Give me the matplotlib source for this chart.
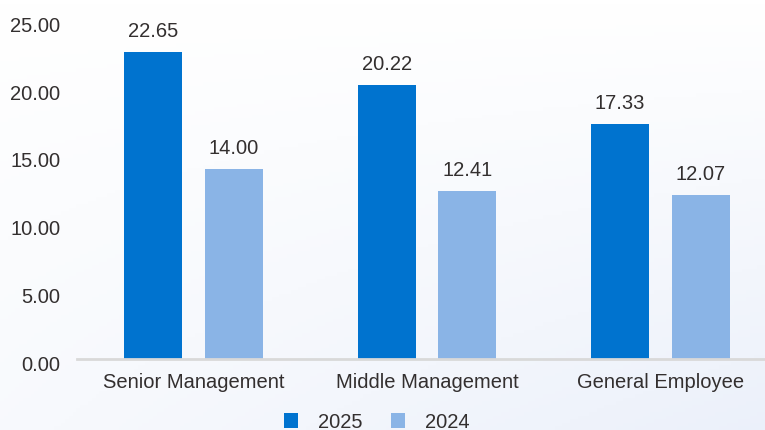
import numpy as np
import matplotlib
matplotlib.use("Agg")
import matplotlib.pyplot as plt
import matplotlib.transforms as mtransforms

categories = ["Senior Management", "Middle Management", "General Employee"]
values_2025 = [22.65, 20.22, 17.33]
values_2024 = [14.00, 12.41, 12.07]
series_names = ["2025", "2024"]
y_ticks = [0, 5, 10, 15, 20, 25]

color_2025 = "#0073cf"
color_2024 = "#8ab4e6"
text_color = "#332f2f"
fs = 14.5

plt.rcParams["font.family"] = ["Liberation Sans", "DejaVu Sans"]

fig = plt.figure(figsize=(7.65, 4.30), dpi=100)
fig.patch.set_facecolor("white")

# faint background wash, mostly toward the lower right
bg = fig.add_axes([0, 0, 1, 1], zorder=-10)
gx = np.linspace(0, 1, 200)
gy = np.linspace(0, 1, 120)
X, Y = np.meshgrid(gx, gy)
shade = np.clip(0.35 * Y + 0.6 * X * Y, 0, 1)
white = np.array([1.0, 1.0, 1.0])
tint = np.array([0.92, 0.94, 0.98])
img = white + (tint - white) * shade[..., None]
bg.imshow(img, aspect="auto", extent=[0, 1, 0, 1], origin="upper")
bg.axis("off")

ax = fig.add_axes([0.1007, 0.165, 0.915, 0.788])
ax.patch.set_alpha(0)

x = np.arange(len(categories))
w = 0.248
off = 0.173
b1 = ax.bar(x - off, values_2025, w, color=color_2025, label=series_names[0], zorder=3)
b2 = ax.bar(x + off, values_2024, w, color=color_2024, label=series_names[1], zorder=3)

for bars in (b1, b2):
    for rect in bars:
        h = rect.get_height()
        ax.annotate(f"{h:.2f}", (rect.get_x() + rect.get_width() / 2, h),
                    xytext=(0, 11), textcoords="offset pixels",
                    ha="center", va="bottom", fontsize=fs, color=text_color)

ax.set_xlim(-0.5, 2.5)
ax.set_ylim(0, 25)
ax.set_yticks(y_ticks)
ax.set_yticklabels([f"{v:.2f}" for v in y_ticks])
ax.set_xticks(x)
ax.set_xticklabels(categories)
ax.tick_params(axis="both", length=0, labelsize=fs, labelcolor=text_color)
ax.tick_params(axis="y", pad=12)
ax.tick_params(axis="x", pad=10)

shift = mtransforms.ScaledTranslation(0, -3 / 72, fig.dpi_scale_trans)
for lab in ax.get_yticklabels():
    lab.set_transform(lab.get_transform() + shift)

for s in ["top", "right", "left"]:
    ax.spines[s].set_visible(False)
ax.spines["bottom"].set_color("#d9d9d9")
ax.spines["bottom"].set_linewidth(2)
ax.spines["bottom"].set_zorder(4)

leg = fig.legend(handles=[b1, b2], labels=series_names, loc="center",
                 bbox_to_anchor=(377 / 765, 1 - 422 / 430), ncol=2, frameon=False,
                 fontsize=fs, handlelength=0.7, handleheight=0.7,
                 columnspacing=1.4, handletextpad=1.0)
for t in leg.get_texts():
    t.set_color(text_color)

fig.savefig("out.png", dpi=100)
